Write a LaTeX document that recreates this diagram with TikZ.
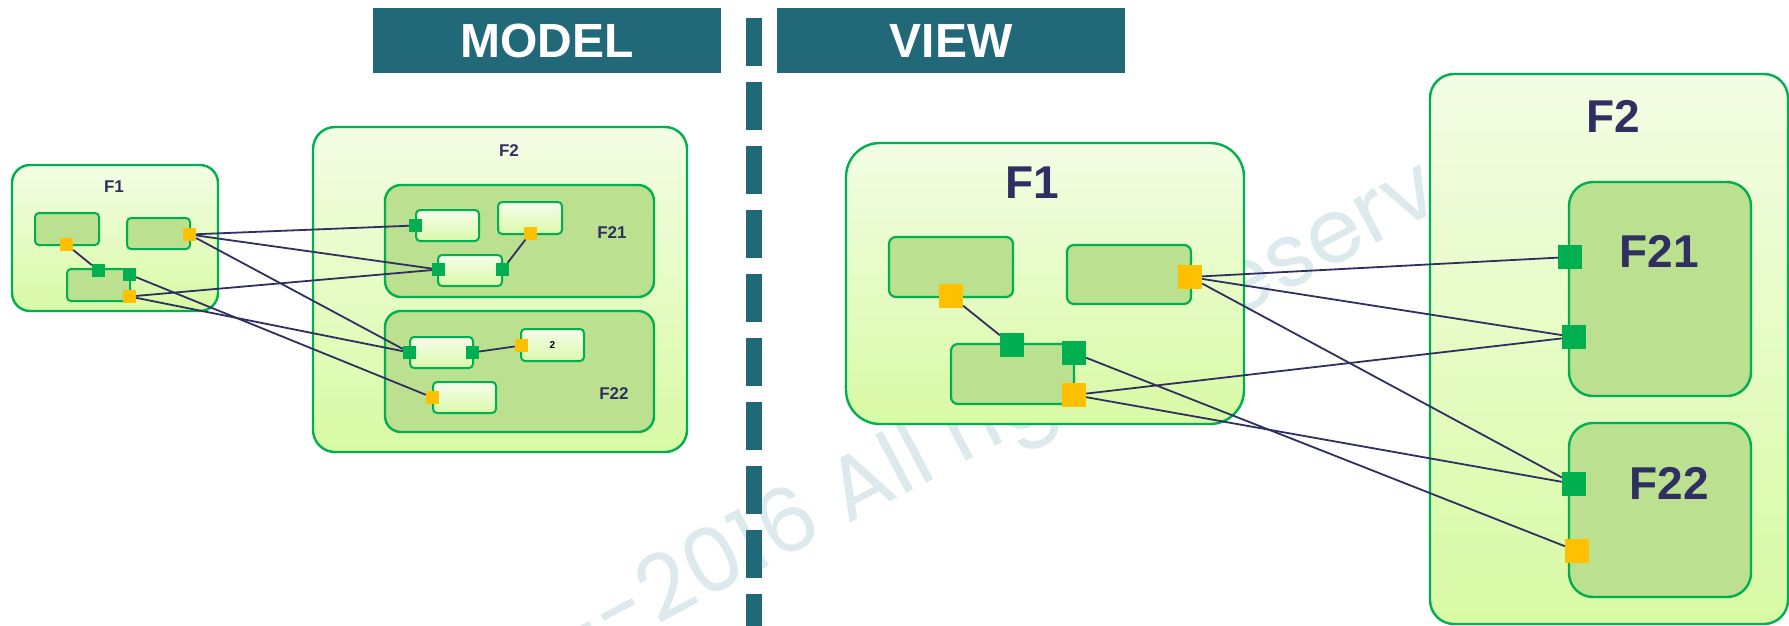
\documentclass[tikz,border=0pt]{standalone}
\usepackage{fontspec}
\setmainfont{Liberation Sans}
\newfontfamily\wmfont{Poppins}
\definecolor{gline}{RGB}{0,176,80}
\definecolor{pgreen}{RGB}{0,176,80}
\definecolor{porange}{RGB}{255,192,0}
\definecolor{midg}{RGB}{186,224,144}
\definecolor{otop}{RGB}{243,253,228}
\definecolor{obot}{RGB}{216,250,164}
\definecolor{ltop}{RGB}{246,253,236}
\definecolor{lbot}{RGB}{218,249,168}
\definecolor{navy}{RGB}{47,47,98}
\definecolor{teal}{RGB}{33,104,120}
\definecolor{wmc}{RGB}{220,233,237}
\begin{document}
\begin{tikzpicture}[x=1pt,y=-1pt,
  outerbox/.style={draw=gline, line width=2.4pt, top color=otop, bottom color=obot, inner sep=0pt},
  midbox/.style={draw=gline, line width=2.4pt, fill=midg, inner sep=0pt},
  lightbox/.style={draw=gline, line width=2pt, top color=ltop, bottom color=lbot, inner sep=0pt, rounded corners=4pt},
  darkbox/.style={draw=gline, line width=2pt, fill=midg, inner sep=0pt, rounded corners=4pt},
  vdarkbox/.style={draw=gline, line width=2.2pt, fill=midg, inner sep=0pt, rounded corners=7pt},
  gps/.style={fill=pgreen, inner sep=0pt, minimum size=13pt},
  ops/.style={fill=porange, inner sep=0pt, minimum size=13pt},
  gpl/.style={fill=pgreen, inner sep=0pt, minimum size=24pt},
  opl/.style={fill=porange, inner sep=0pt, minimum size=24pt},
  conn/.style={draw=navy, line width=1.8pt},
  lbls/.style={font=\bfseries\fontsize{17}{17}\selectfont, text=navy, inner sep=0pt},
  lblb/.style={font=\bfseries\fontsize{46}{46}\selectfont, text=navy, inner sep=0pt},
  hdr/.style={font=\bfseries\fontsize{48}{48}\selectfont, text=white, inner sep=0pt},
  bar/.style={fill=teal, inner sep=0pt, minimum width=348pt, minimum height=65pt},
  wmark/.style={rotate=28, inner sep=0pt, text=wmc, font=\wmfont\fontsize{89}{89}\selectfont}
]
\useasboundingbox (0,0) rectangle (1789,626);
\fill[white] (0,0) rectangle (1789,626);

% watermark
\node[wmark, anchor=base west] (wm) at (657,626) {2016 All rights reserved};
\node[wmark, anchor=base east] (wmdash) at (wm.base west) {-- };

% headers
\node[bar] (mbar) at (547,40.5) {};
\node[hdr] (mtxt) at (547,40.5) {MODEL};
\node[bar] (vbar) at (951,40.5) {};
\node[hdr] (vtxt) at (951,40.5) {VIEW};
\draw[teal, line width=16pt, dash pattern=on 48pt off 16pt] (754,18) -- (754,640);

% ---------------- MODEL ----------------
\node[outerbox, rounded corners=18pt, minimum width=206pt, minimum height=146pt] (mF1) at (115,238) {};
\node[lbls] (mF1l) at (114,187) {F1};
\node[darkbox, minimum width=64pt, minimum height=32pt] (mA) at (67,229) {};
\node[darkbox, minimum width=63pt, minimum height=31pt] (mB) at (158.5,233.5) {};
\node[darkbox, minimum width=63pt, minimum height=32pt] (mC) at (98.5,285) {};

\node[outerbox, rounded corners=22pt, minimum width=374pt, minimum height=325pt] (mF2) at (500,289.5) {};
\node[lbls] (mF2l) at (509,151) {F2};
\node[midbox, rounded corners=16pt, minimum width=269pt, minimum height=112pt] (mF21) at (519.5,241) {};
\node[lbls] (mF21l) at (612,233) {F21};
\node[midbox, rounded corners=16pt, minimum width=269pt, minimum height=121pt] (mF22) at (519.5,371.5) {};
\node[lbls] (mF22l) at (614,394) {F22};
\node[lightbox, minimum width=63pt, minimum height=31pt] (b1) at (447.5,225.5) {};
\node[lightbox, minimum width=64pt, minimum height=32pt] (b2) at (530,218) {};
\node[lightbox, minimum width=64pt, minimum height=31pt] (b3) at (470,270.5) {};
\node[lightbox, minimum width=63pt, minimum height=31pt] (c1) at (441.5,352.5) {};
\node[lightbox, minimum width=63pt, minimum height=32pt, font=\bfseries\fontsize{10}{10}\selectfont] (c2) at (552.5,345) {2};
\node[lightbox, minimum width=63pt, minimum height=31pt] (c3) at (464.5,397.5) {};

% model ports
\node[ops] (mAp) at (66.5,244.5) {};
\node[ops] (mBp) at (189.5,234.5) {};
\node[gps] (mCt) at (98.5,270.5) {};
\node[gps] (mCg) at (129.5,274.5) {};
\node[ops] (mCo) at (129.5,296.5) {};
\node[gps] (b1p) at (415.5,225.5) {};
\node[ops] (b2p) at (530.5,233) {};
\node[gps] (b3l) at (438.5,269.5) {};
\node[gps] (b3r) at (502.5,269.5) {};
\node[gps] (c1l) at (409.5,352.5) {};
\node[gps] (c1r) at (472.5,352.5) {};
\node[ops] (c2p) at (521.5,345.5) {};
\node[ops] (c3p) at (432.5,397.5) {};

% model connectors
\draw[conn] (mAp) -- (mCt);
\draw[conn] (b2p) -- (b3r);
\draw[conn] (c1r) -- (c2p);
\draw[conn] (mBp) -- (b1p);
\draw[conn] (mBp) -- (b3l);
\draw[conn] (mBp) -- (c1l);
\draw[conn] (mCo) -- (b3l);
\draw[conn] (mCo) -- (c1l);
\draw[conn] (mCg) -- (c3p);

% ---------------- VIEW ----------------
\node[outerbox, rounded corners=34pt, minimum width=398pt, minimum height=281pt] (vF1) at (1045,283.5) {};
\node[lblb] (vF1l) at (1032,183) {F1};
\node[vdarkbox, minimum width=124pt, minimum height=60pt] (vA) at (951,267) {};
\node[vdarkbox, minimum width=124pt, minimum height=59pt] (vB) at (1129,274.5) {};
\node[vdarkbox, minimum width=123pt, minimum height=60pt] (vC) at (1012.5,374) {};

\node[outerbox, rounded corners=24pt, minimum width=358pt, minimum height=550pt] (vF2) at (1609,349) {};
\node[lblb] (vF2l) at (1613,116) {F2};
\node[midbox, rounded corners=24pt, minimum width=182pt, minimum height=214pt] (vF21) at (1660,289) {};
\node[lblb] (vF21l) at (1659,251) {F21};
\node[midbox, rounded corners=24pt, minimum width=182pt, minimum height=174pt] (vF22) at (1660,510) {};
\node[lblb] (vF22l) at (1669,483) {F22};

% view ports
\node[opl] (vAp) at (951,296) {};
\node[opl] (vBp) at (1190,277) {};
\node[gpl] (vCt) at (1012,345) {};
\node[gpl] (vCg) at (1074,353) {};
\node[opl] (vCo) at (1074,395) {};
\node[gpl] (p1) at (1570,257) {};
\node[gpl] (p2) at (1574,337) {};
\node[gpl] (p3) at (1574,484) {};
\node[opl] (p4) at (1577,551) {};

% view connectors
\draw[conn] (vAp) -- (vCt);
\draw[conn] (vBp) -- (p1);
\draw[conn] (vBp) -- (p2);
\draw[conn] (vBp) -- (p3);
\draw[conn] (vCo) -- (p2);
\draw[conn] (vCo) -- (p3);
\draw[conn] (vCg) -- (p4);
\end{tikzpicture}
\end{document}
